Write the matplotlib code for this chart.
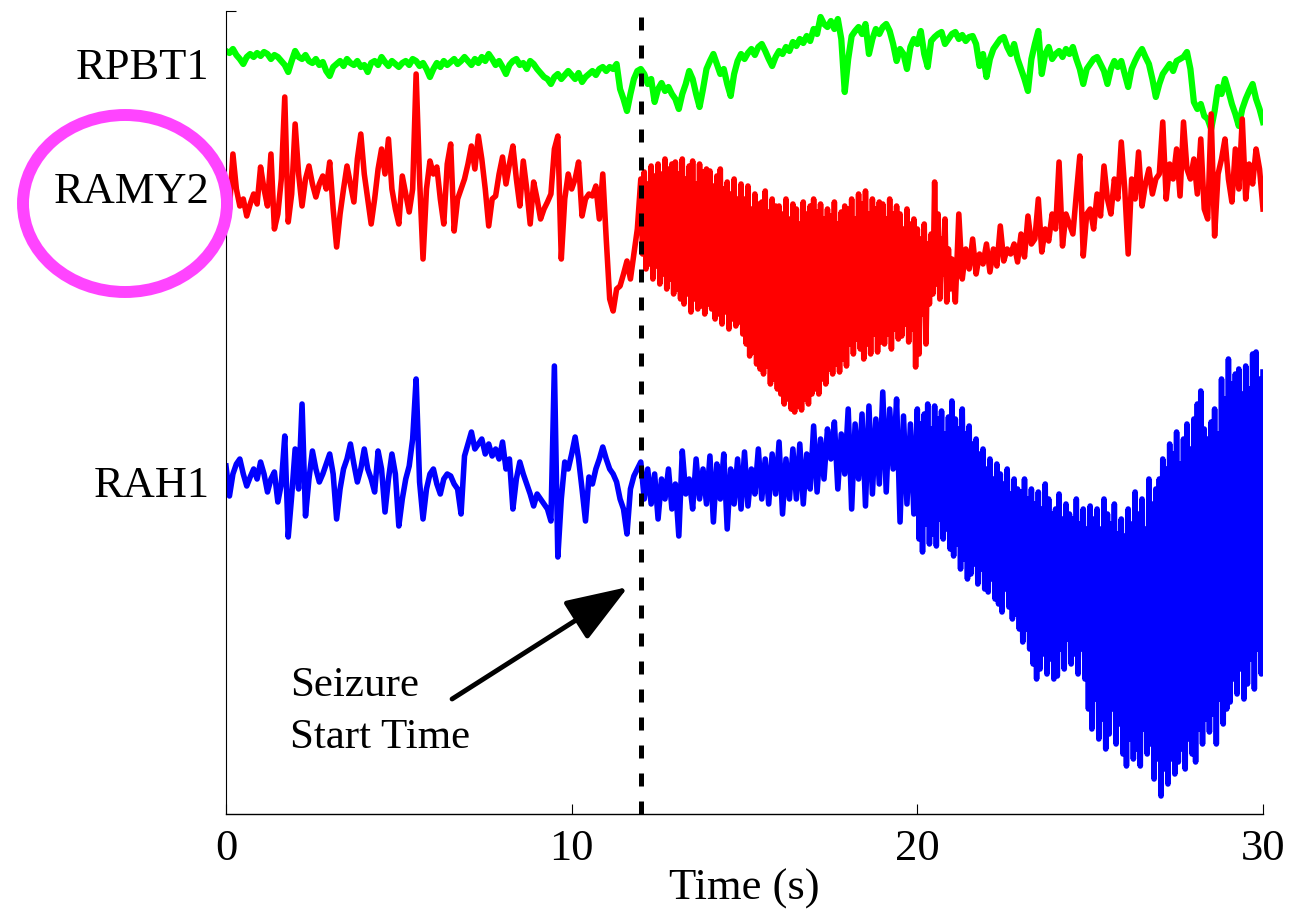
import numpy as np
import matplotlib.pyplot as plt
from matplotlib.patches import Ellipse

plt.rcParams['font.family'] = ['Liberation Serif', 'DejaVu Serif']

seizure_start = 12.0

channels = ['RPBT1', 'RAMY2', 'RAH1']
offsets = [747, 620, 335]
label_y = [751, 627, 333]
colors = ['#00ff00', '#ff0000', '#0000ff']
widths = [4.5, 4.0, 4.0]

# RPBT1, 0-30 s every 0.1 s (one row per second)
rpbt1 = [
    16, 14, 18, 12, 8, 3, 10, 13, 10, 14,
    11, 15, 13, 8, 12, 10, 6, 2, -5, 6,
    16, 10, 8, 12, 6, 4, 8, 2, 5, -4,
    -9, 0, 3, 6, 1, 8, 4, 2, 6, 0,
    2, -5, 4, 6, 2, 10, 5, 1, 6, 3,
    0, 4, 6, 2, 8, 6, 1, 4, -2, -10,
    -2, 4, 0, 6, 2, 5, 8, 3, 6, 10,
    6, 2, 8, 4, 10, 6, 13, 8, 2, 6,
    0, -7, 2, 6, 8, 2, 4, -2, 6, 3,
    -2, -6, -10, -12, -17, -10, -7, -12, -8, -4,
    -8, -12, -6, -15, -10, -7, -4, -8, -2, 0,
    -4, 0, -2, 3, -22, -32, -44, -27, -12, -4,
    -2, -7, -17, -12, -35, -22, -16, -24, -20, -27,
    -32, -42, -27, -17, -4, -12, -27, -40, -22, -2,
    6, 13, 3, -7, -2, -17, -29, -7, 6, 13,
    8, 14, 18, 12, 20, 23, 16, 8, 1, 10,
    16, 13, 20, 16, 25, 21, 28, 24, 31, 26,
    38, 33, 50, 43, 40, 46, 38, 48, 28, -25,
    8, 31, 36, 40, 33, 43, 13, 28, 38, 33,
    40, 43, 36, 23, 6, 18, 13, -2, 20, 28,
    23, 36, 13, 0, 26, 30, 33, 35, 23, 28,
    33, 35, 28, 32, 26, 30, 31, 23, 1, 13,
    -10, 8, 18, 23, 28, 30, 20, 13, 23, 8,
    -2, -12, -24, 8, 23, 36, -7, 13, 20, 8,
    13, 16, 10, 18, 13, 20, 8, -2, -17, -2,
    3, 8, 10, 3, -4, -17, -2, 6, 0, 6,
    -7, -20, -2, 6, 13, 18, 10, 3, -12, -30,
    -17, -7, -2, 3, -4, 6, 8, 10, 15, -2,
    -35, -42, -37, -49, -52, -62, -44, -20, -27, -12,
    -24, -37, -47, -59, -42, -32, -24, -17, -32, -42,
    -55,
]

# RAMY2, 0-11.9 s every 0.1 s
ramy2_pre = [
    -5, -15, 40, 5, -12, -5, -22, -10, 0, -10,
    27, 5, -12, 40, -35, -20, 15, 97, -28, 0,
    70, 20, -12, 15, 28, 10, -3, 10, 18, 5,
    32, -15, -53, -20, 5, 28, 10, -8, 35, 60,
    20, -5, -30, -5, 25, 45, 20, 55, 5, -15,
    -30, 18, 0, -18, 5, 120, 15, -65, 5, 33,
    20, 27, -5, -30, 30, 50, -37, -5, 5, 15,
    30, 48, 25, 58, 35, 5, -32, -5, -2, 20,
    37, 10, 30, 48, 15, -12, 33, 5, -30, 12,
    -5, -25, -15, -8, 0, 45, 58, -65, -5, 20,
    5, 15, 32, -22, -5, 0, -2, 8, -25, 20,
    -45, -105, -117, -95, -92, -80, -67, -85, -60, -35,
]

# RAMY2, 12-20.95 s every 0.05 s (seizure discharge)
ramy2_ictal = [
    15, -60, 22, -75, 10, -70, 28, -85, 18, -72, 30, -90, 20, -80, 35, -95, 25, -85, 30, -100,
    32, -95, 20, -105, 35, -110, 15, -100, 28, -118, 33, -105, 10, -115, 30, -112, 22, -120, 25, -110,
    23, -115, 8, -125, 18, -120, 25, -130, 5, -118, 12, -135, 0, -125, 15, -132, -5, -128, 10, -140,
    -5, -150, 8, -162, -15, -158, 0, -170, -10, -175, -8, -180, 3, -172, -18, -190, -5, -185, -12, -195,
    -12, -200, -20, -210, -5, -205, -25, -215, -10, -218, -15, -212, -30, -216, -8, -205, -20, -210, -12, -200,
    -5, -195, -18, -200, -10, -185, -25, -190, -15, -175, -22, -180, -8, -170, -30, -178, -18, -165, -12, -172,
    -15, -150, -5, -160, -25, -145, 0, -155, -10, -165, 3, -150, -20, -160, -5, -140, -15, -158, -8, -148,
    -10, -150, -25, -140, -5, -155, -20, -135, -12, -145, -20, -142, -35, -130, -15, -148, -30, -135, -25, -173,
    -35, -160, -45, -120, -30, -150, -50, -110, -40, -100, 12, -90, -20, -105, -45, -80, -25, -108, -55, -95,
]

# RAMY2, 21-30 s every 0.1 s
ramy2_post = [
    -65, -108, -20, -85, -55, -75, -45, -80, -60, -70,
    -50, -78, -55, -72, -32, -67, -55, -60, -50, -68,
    -40, -63, -22, -50, -45, -5, -58, -35, -47, -20,
    -35, 32, -52, -20, -30, -40, 0, 38, -62, -20,
    -15, -35, 0, -22, 28, -5, -20, 15, -5, 52,
    5, -60, 15, -5, 42, -12, 10, 25, 0, 15,
    20, 72, -5, 30, 15, 45, -2, 72, 25, 15,
    35, 0, 55, -15, -25, 80, -42, 20, 35, 55,
    15, -8, 45, 5, 75, -5, 30, 10, 45, 25,
    -15,
]

# RAH1, 0-19.9 s every 0.1 s
rah1_pre = [
    13, -17, 5, 15, 20, 5, -7, 2, 10, 0,
    17, 5, -13, 0, 7, -23, -5, 43, -58, -17,
    30, -10, 75, -37, 0, 28, 10, -3, 5, 15,
    25, 5, -40, -10, 10, 20, 35, 15, -3, 10,
    30, 10, 0, -13, 28, 10, -33, 0, 25, 5,
    -47, -20, 0, 13, 40, 100, -3, -40, -10, 5,
    10, -5, -15, 0, 5, 3, -5, -10, -35, 23,
    35, 47, 30, 35, 40, 25, 35, 23, 30, 20,
    37, 10, 20, -30, 0, 17, 5, -5, -15, -27,
    -15, -20, -25, -30, -42, 113, -78, -20, 17, 10,
    25, 42, 20, -10, -42, 2, -5, 10, 20, 32,
    20, 10, 5, -3, -20, -30, -55, -10, 3, 10,
    17, -20, 10, -25, 5, -40, 0, -20, 10, -30,
    -5, -57, 28, -15, 0, -30, 20, -20, 10, -25,
    23, -43, 15, -20, 25, -50, 10, -25, 20, -30,
    27, -27, 10, -15, 30, -20, 20, -25, 25, -15,
    37, -35, 20, -20, 30, -20, 35, -25, 25, -10,
    53, -13, 40, 0, 50, 20, 57, -10, 45, 5,
    70, -30, 55, 0, 65, -27, 73, -15, 60, -5,
    87, -13, 70, 10, 80, -43, 63, -25, 55, -35,
]

# RAH1, 20-30 s every 0.05 s
rah1_ictal = [
    70, -60, 55, -73, 65, -45, 75, -65, 50, -55, 73, -67, 60, -40, 68, -60, 45, -50, 62, -70,
    78, -77, 60, -65, 50, -90, 70, -80, 45, -100, 53, -95, 35, -85, 40, -105, 25, -90, 30, -110,
    10, -113, 20, -100, 0, -120, 15, -125, 5, -133, -5, -110, 10, -128, -15, -140, 0, -135, -10, -150,
    -13, -163, 0, -150, -20, -170, -10, -185, -25, -200, -13, -190, -30, -175, -5, -195, -20, -180, -35, -200,
    -30, -197, -15, -170, -40, -190, -25, -160, -35, -185, -40, -175, -20, -195, -45, -170, -30, -200, -50, -230,
    -27, -250, -40, -220, -30, -260, -50, -240, -20, -270, -35, -255, -45, -230, -25, -265, -55, -245, -40, -275,
    -57, -287, -30, -260, -45, -280, -13, -270, -35, -287, -20, -250, -50, -275, 0, -265, -25, -300, -10, -280,
    0, -317, 20, -290, 10, -305, 35, -280, 25, -295, 47, -283, 15, -270, 40, -290, 55, -260, 30, -275,
    60, -283, 75, -250, 88, -265, 50, -240, 40, -253, 57, -235, 70, -265, 45, -220, 100, -245, 80, -230,
    120, -223, 95, -200, 105, -215, 110, -190, 85, -220, 113, -205, 90, -180, 125, -210, 127, -170, 100, -195,
    107,
]

# (start time, sample step, values) for each channel
traces = [
    [(0.0, 0.1, rpbt1)],
    [(0.0, 0.1, ramy2_pre), (12.0, 0.05, ramy2_ictal), (21.0, 0.1, ramy2_post)],
    [(0.0, 0.1, rah1_pre), (20.0, 0.05, rah1_ictal)],
]

fig = plt.figure(figsize=(12.99, 9.2), dpi=100)
ax = fig.add_axes([226 / 1299, 1 - 815 / 920, 1037 / 1299, 803 / 920])

for segs, off, c, w in zip(traces, offsets, colors, widths):
    t = np.concatenate([t0 + step * np.arange(len(v)) for t0, step, v in segs])
    y = np.concatenate([np.array(v, dtype=float) for _, _, v in segs])
    ax.plot(t, y + off, color=c, lw=w, solid_joinstyle='round')

# seizure onset marker
ax.axvline(seizure_start, color='k', lw=3.6, dashes=(2.6, 3.0))

ax.annotate('', xy=(11.63, 227), xytext=(6.54, 115),
            arrowprops=dict(arrowstyle='-|>,head_length=0.55,head_width=0.2',
                            mutation_scale=70, lw=3.5, color='k',
                            shrinkA=0, shrinkB=0))
ax.text(1.85, 103, 'Seizure\nStart Time', fontsize=31, va='center', ha='left',
        linespacing=1.45)

ax.set_xlim(0, 30)
ax.set_ylim(0, 803)
ax.set_xticks([0, 10, 20, 30])
ax.tick_params(axis='x', direction='in', length=7, width=0.8, labelsize=32, pad=10)
ax.set_yticks(label_y)
ax.set_yticklabels(channels, fontsize=32)
ax.tick_params(axis='y', length=0, pad=12)
ax.set_yticks([803], minor=True)
ax.tick_params(axis='y', which='minor', direction='in', length=7, width=0.8)
ax.spines['top'].set_visible(False)
ax.spines['right'].set_visible(False)
ax.spines['left'].set_linewidth(0.8)
ax.spines['bottom'].set_linewidth(1.0)
ax.set_xlabel('Time (s)', fontsize=32, labelpad=0)

# highlight of the RAMY2 channel label
fig.add_artist(Ellipse((125 / 1299, 1 - 204.5 / 920), 204 / 1299, 177 / 920,
                       transform=fig.transFigure, fill=False,
                       ec='#ff44ff', lw=8.6, zorder=5))

fig.savefig('out.png', dpi=100)
